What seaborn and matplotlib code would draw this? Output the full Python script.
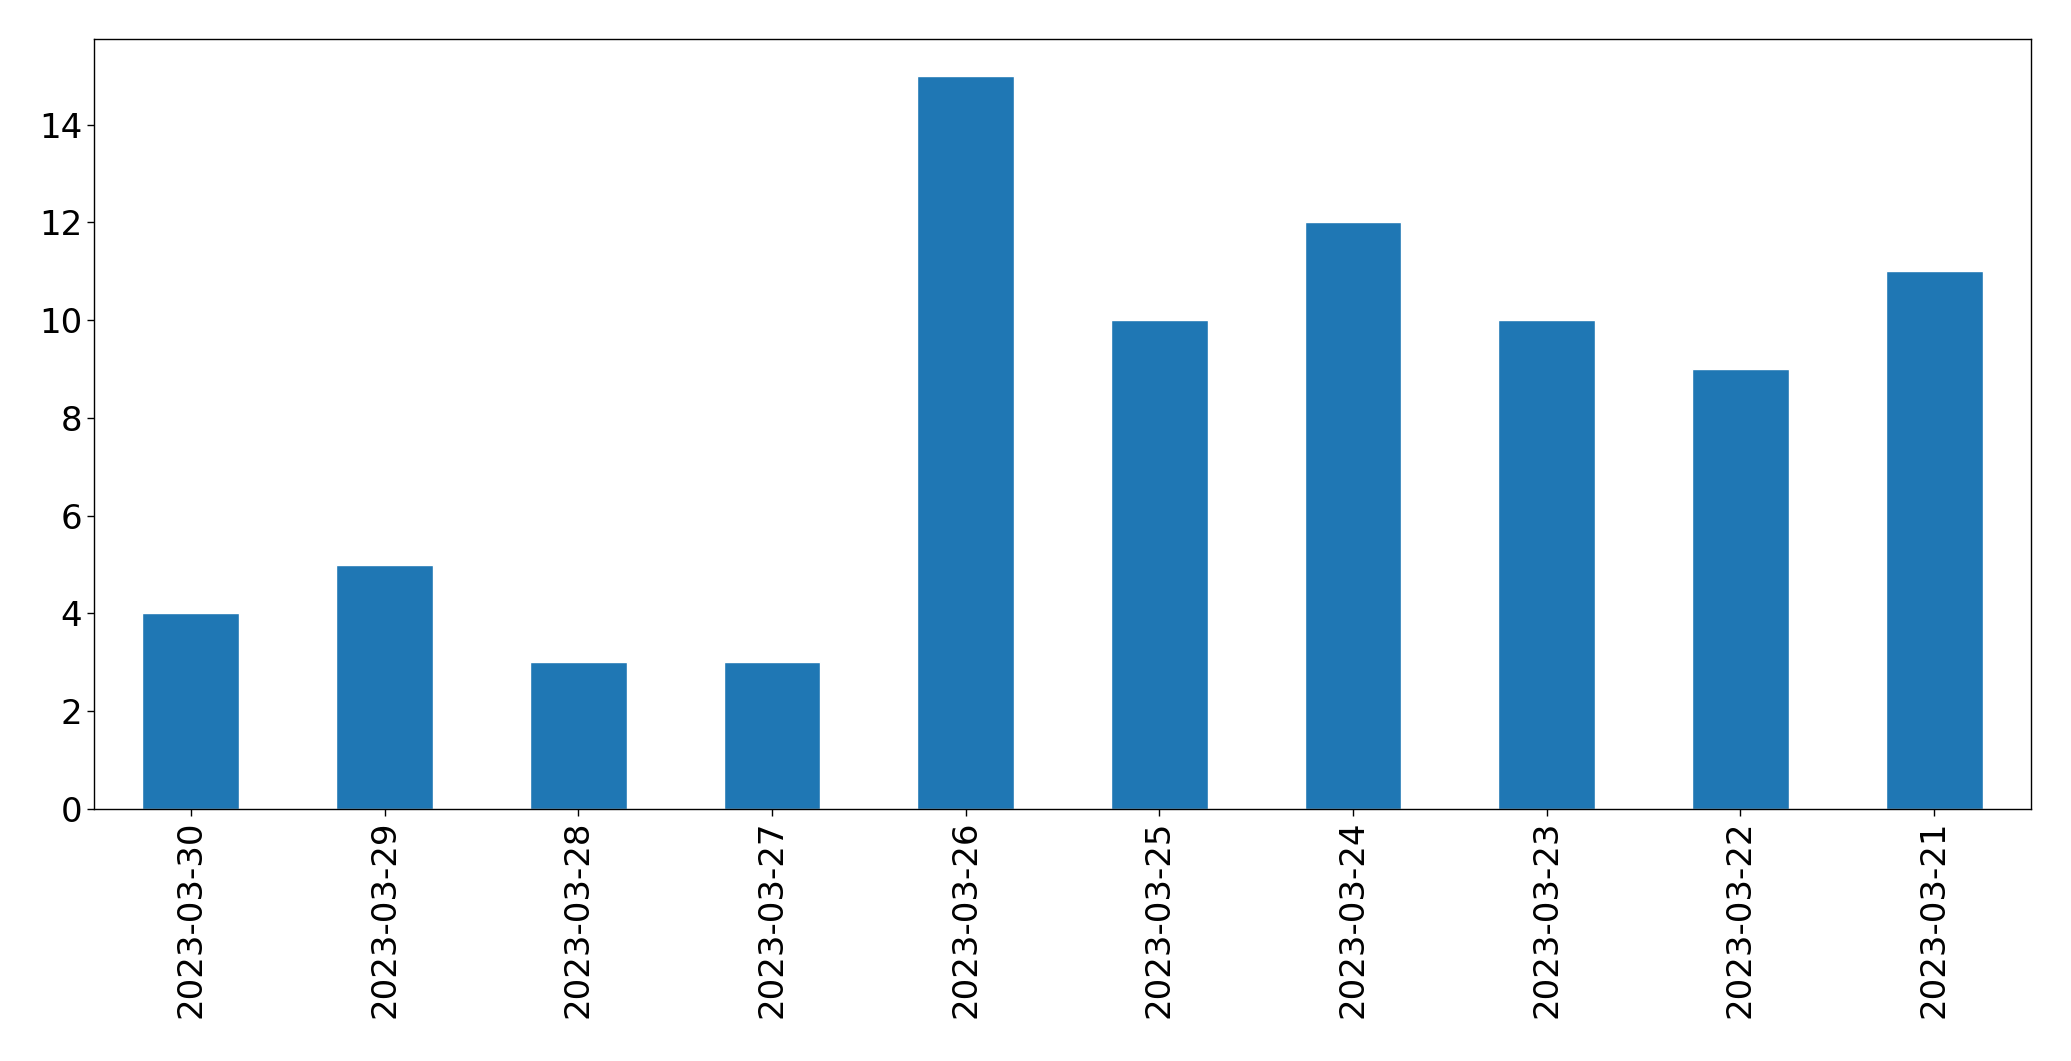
import pandas as pd
import matplotlib
matplotlib.use("Agg")
import matplotlib.pyplot as plt
import seaborn as sns

# 每日计数（按日期倒序）
dates = ["2023-03-30", "2023-03-29", "2023-03-28", "2023-03-27", "2023-03-26",
         "2023-03-25", "2023-03-24", "2023-03-23", "2023-03-22", "2023-03-21"]
counts = [4, 5, 3, 3, 15, 10, 12, 10, 9, 11]

df = pd.DataFrame({"date": dates, "count": counts})

sns.set_style("ticks")
plt.rcParams['font.family'] = ['DejaVu Sans']

fig, ax = plt.subplots(figsize=(20.71, 10.61), dpi=100)
fig.subplots_adjust(left=94 / 2071, right=2031 / 2071, top=1 - 39 / 1061, bottom=1 - 809 / 1061)

sns.barplot(data=df, x="date", y="count", order=dates, color="#1f77b4",
            saturation=1, width=0.5, ax=ax)

ax.set_xlim(-0.5, len(dates) - 0.5)
ax.set_ylim(0, 15.75)
ax.set_xlabel("")
ax.set_ylabel("")
ax.tick_params(axis="both", labelsize=24.5, length=5, width=1,
               colors="black", labelcolor="black")
ax.tick_params(axis="x", labelrotation=90)
for s in ax.spines.values():
    s.set_visible(True)
    s.set_linewidth(1)
    s.set_color("black")

fig.savefig("out.png", dpi=100)
